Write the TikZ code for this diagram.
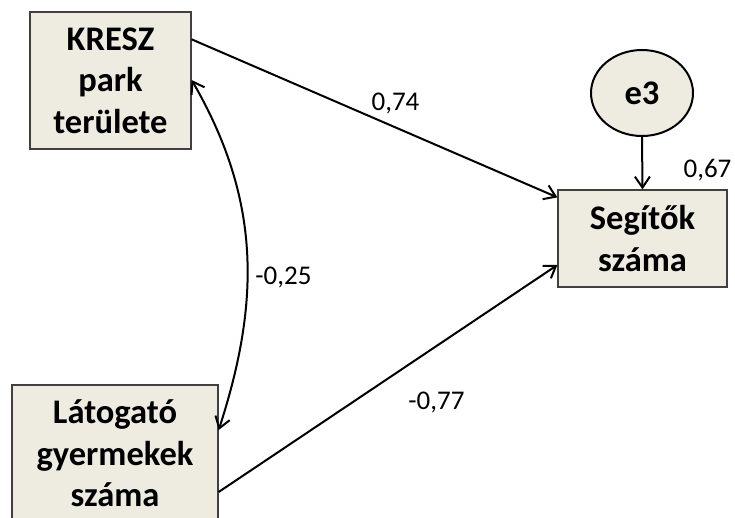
\documentclass[tikz,border=0pt]{standalone}
\usepackage{fontspec}
\setmainfont{Carlito}
\usetikzlibrary{arrows.meta,shapes.geometric}
\definecolor{boxfill}{HTML}{EEECE1}
\definecolor{boxline}{gray}{0.25}

\begin{document}
\begin{tikzpicture}[x=1pt, y=1pt,
  >={Straight Barb[length=11pt,width=15pt]},   %Pfeilspitzen
  var/.style={draw=boxline, line width=1.3pt, fill=boxfill, align=center,
    font=\fontsize{34.5}{41.5}\selectfont\bfseries, inner sep=0pt},
  fehler/.style={draw=black, line width=2pt, fill=boxfill, ellipse,
    font=\fontsize{34.5}{41.5}\selectfont\bfseries, inner sep=0pt},
  koef/.style={font=\fontsize{27}{30}\selectfont, inner sep=0pt},
  pfeil/.style={->, line width=2pt}]
\useasboundingbox (0,0) rectangle (735,-517);

% Variablen
\node[var, minimum width=161pt, minimum height=137pt] (kresz) at (110.5,-80.5) {KRESZ\\park\\területe};
\node[var, minimum width=206pt, minimum height=137pt] (lat) at (115,-453.5) {Látogató\\gyermekek\\száma};
\node[var, minimum width=169pt, minimum height=97pt] (seg) at (642.5,-238.5) {Segítők\\száma};
\node[fehler, minimum width=102pt, minimum height=86pt] (e3) at (642,-93) {e3};

% Pfade
\draw[pfeil] ([yshift=-28pt]kresz.north east) -- ([yshift=-8pt]seg.north west);
\draw[pfeil] ([yshift=-38.5pt]lat.east) -- ([yshift=-26.5pt]seg.west);
\draw[pfeil] (e3.south) -- (seg.north);

% Korrelation
\draw[<->, line width=2pt] ([yshift=0.5pt]kresz.east) to[out=-60, in=72] ([yshift=23.5pt]lat.east);

% Koeffizienten
\node[koef] (k1) at (395.5,-103) {0,74};
\node[koef] (k2) at (283.5,-277) {-0,25};
\node[koef] (k3) at (436.5,-402) {-0,77};
\node[koef] (k4) at (707.5,-170) {0,67};
\end{tikzpicture}
\end{document}
